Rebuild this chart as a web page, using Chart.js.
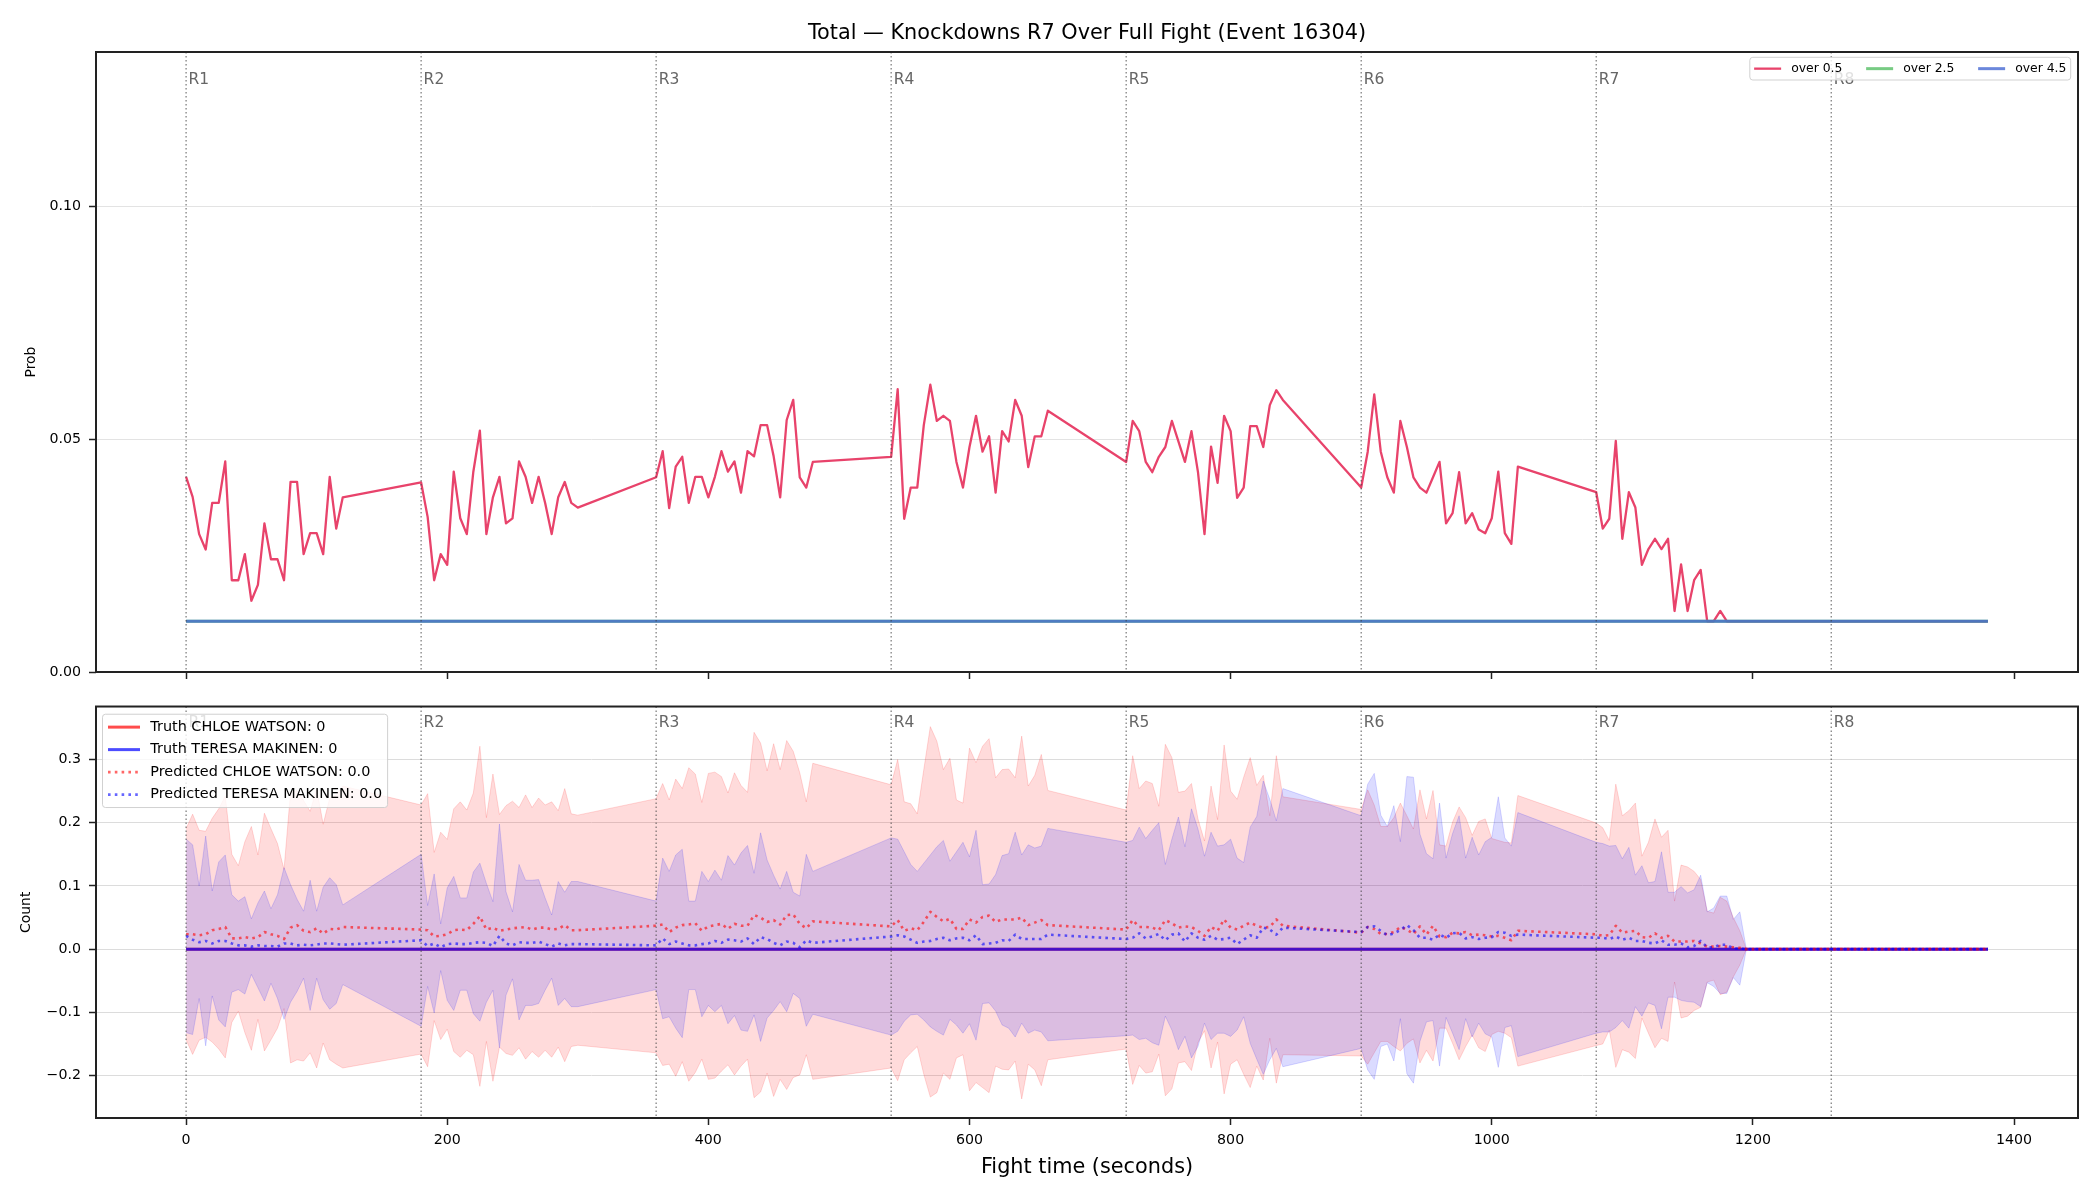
<!DOCTYPE html>
<html>
<head>
<meta charset="utf-8">
<title>Knockdowns R7 Over Full Fight</title>
<script src="https://cdn.jsdelivr.net/npm/chart.js@4.4.1/dist/chart.umd.min.js"></script>
<style>
    html, body { margin: 0; padding: 0; background: #fff; }
    #wrap { position: relative; width: 2100px; height: 1200px; }
    canvas { position: absolute; left: 0; }
    #probChart { top: 0; }
    #countChart { top: 690px; }
</style>
</head>
<body>
<div id="wrap">
    <canvas id="probChart" width="2100" height="690"></canvas>
    <canvas id="countChart" width="2100" height="510"></canvas>
</div>
<script>
// ---- data ----
const chartTitle = 'Total — Knockdowns R7 Over Full Fight (Event 16304)';
const roundStarts = [0, 180, 360, 540, 720, 900, 1080, 1260];
const roundLabels = ['R1', 'R2', 'R3', 'R4', 'R5', 'R6', 'R7', 'R8'];
const xTicks = [0, 200, 400, 600, 800, 1000, 1200, 1400];
const probTicks = [0, 0.05, 0.10];
const countTicks = [-0.2, -0.1, 0, 0.1, 0.2, 0.3];

// sample times (seconds), one row per round
const times = [
    0, 5, 10, 15, 20, 25, 30, 35, 40, 45, 50, 55, 60, 65, 70, 75, 80, 85, 90, 95, 100, 105, 110, 115, 120,
    180, 185, 190, 195, 200, 205, 210, 215, 220, 225, 230, 235, 240, 245, 250, 255, 260, 265, 270, 275, 280, 285, 290, 295, 300,
    360, 365, 370, 375, 380, 385, 390, 395, 400, 405, 410, 415, 420, 425, 430, 435, 440, 445, 450, 455, 460, 465, 470, 475, 480,
    540, 545, 550, 555, 560, 565, 570, 575, 580, 585, 590, 595, 600, 605, 610, 615, 620, 625, 630, 635, 640, 645, 650, 655, 660,
    720, 725, 730, 735, 740, 745, 750, 755, 760, 765, 770, 775, 780, 785, 790, 795, 800, 805, 810, 815, 820, 825, 830, 835, 840,
    900, 905, 910, 915, 920, 925, 930, 935, 940, 945, 950, 955, 960, 965, 970, 975, 980, 985, 990, 995, 1000, 1005, 1010, 1015, 1020,
    1080, 1085, 1090, 1095, 1100, 1105, 1110, 1115, 1120, 1125, 1130, 1135, 1140, 1145, 1150, 1155, 1160, 1165, 1170, 1175, 1180, 1185, 1190, 1195, 1200,
    1260, 1265, 1270, 1275, 1280, 1285, 1290, 1295, 1300, 1305, 1310, 1315, 1320, 1325, 1330, 1335, 1340, 1345, 1350, 1355, 1360, 1365, 1370, 1375, 1380
];

// top panel: probability of "over N" knockdowns
const over05 = [
    0.0419, 0.0376, 0.0296, 0.0263, 0.0363, 0.0363, 0.0452, 0.0197, 0.0197, 0.0253, 0.0153, 0.0187, 0.0319, 0.0242, 0.0242, 0.0197, 0.0408, 0.0408, 0.0253, 0.0298, 0.0298, 0.0253, 0.0419, 0.0308, 0.0375,
    0.0407, 0.0333, 0.0197, 0.0253, 0.0230, 0.0430, 0.0330, 0.0296, 0.0430, 0.0518, 0.0296, 0.0375, 0.0419, 0.0319, 0.0330, 0.0452, 0.0419, 0.0363, 0.0419, 0.0363, 0.0296, 0.0375, 0.0408, 0.0363, 0.0353,
    0.0418, 0.0474, 0.0352, 0.0441, 0.0462, 0.0363, 0.0419, 0.0419, 0.0375, 0.0419, 0.0474, 0.0430, 0.0452, 0.0385, 0.0474, 0.0463, 0.0530, 0.0530, 0.0463, 0.0375, 0.0541, 0.0584, 0.0418, 0.0396, 0.0451,
    0.0462, 0.0607, 0.0329, 0.0396, 0.0396, 0.0530, 0.0617, 0.0539, 0.0550, 0.0539, 0.0451, 0.0396, 0.0483, 0.0550, 0.0473, 0.0506, 0.0385, 0.0517, 0.0495, 0.0584, 0.0550, 0.0440, 0.0506, 0.0506, 0.0561,
    0.0451, 0.0539, 0.0517, 0.0451, 0.0429, 0.0462, 0.0483, 0.0539, 0.0495, 0.0451, 0.0517, 0.0429, 0.0296, 0.0484, 0.0406, 0.0550, 0.0517, 0.0374, 0.0396, 0.0528, 0.0528, 0.0483, 0.0573, 0.0605, 0.0584,
    0.0396, 0.0473, 0.0596, 0.0473, 0.0418, 0.0385, 0.0539, 0.0483, 0.0418, 0.0396, 0.0385, 0.0418, 0.0451, 0.0319, 0.0341, 0.0429, 0.0319, 0.0341, 0.0306, 0.0298, 0.0330, 0.0430, 0.0298, 0.0275, 0.0441,
    0.0386, 0.0308, 0.0329, 0.0496, 0.0286, 0.0386, 0.0353, 0.0230, 0.0264, 0.0286, 0.0264, 0.0286, 0.0131, 0.0231, 0.0131, 0.0197, 0.0219, 0.0109, 0.0109, 0.0131, 0.0109, 0.0109, 0.0109, 0.0109, 0.0109,
    0.0109, 0.0109, 0.0109, 0.0109, 0.0109, 0.0109, 0.0109, 0.0109, 0.0109, 0.0109, 0.0109, 0.0109, 0.0109, 0.0109, 0.0109, 0.0109, 0.0109, 0.0109, 0.0109, 0.0109, 0.0109, 0.0109, 0.0109, 0.0109, 0.0109
];
const flatTimes = [0, 1380];
const over25 = [0.0109, 0.0109];
const over45 = [0.0109, 0.0109];

// bottom panel: truth counts and predicted counts with their bands
const truthTimes = [0, 1380];
const truthChloe = [0, 0];
const truthTeresa = [0, 0];

const chloePred = [
    0.0235, 0.0235, 0.022, 0.0235, 0.030, 0.032, 0.035, 0.017, 0.017, 0.019, 0.017, 0.019, 0.027, 0.0235, 0.021, 0.016, 0.034, 0.038, 0.029, 0.027, 0.033, 0.0245, 0.032, 0.031, 0.035,
    0.031, 0.030, 0.020, 0.021, 0.0235, 0.030, 0.031, 0.030, 0.040, 0.052, 0.031, 0.034, 0.029, 0.031, 0.033, 0.034, 0.035, 0.031, 0.034, 0.034, 0.031, 0.032, 0.038, 0.030, 0.030,
    0.037, 0.039, 0.027, 0.034, 0.038, 0.039, 0.041, 0.029, 0.036, 0.038, 0.040, 0.032, 0.040, 0.037, 0.037, 0.054, 0.050, 0.043, 0.046, 0.039, 0.054, 0.055, 0.040, 0.033, 0.044,
    0.036, 0.046, 0.029, 0.033, 0.030, 0.043, 0.059, 0.051, 0.044, 0.048, 0.032, 0.032, 0.047, 0.042, 0.051, 0.053, 0.043, 0.047, 0.047, 0.047, 0.050, 0.038, 0.042, 0.046, 0.038,
    0.031, 0.046, 0.035, 0.035, 0.034, 0.030, 0.046, 0.041, 0.034, 0.036, 0.035, 0.029, 0.021, 0.035, 0.029, 0.047, 0.034, 0.031, 0.037, 0.042, 0.037, 0.034, 0.035, 0.047, 0.037,
    0.026, 0.035, 0.032, 0.024, 0.024, 0.027, 0.035, 0.031, 0.024, 0.036, 0.023, 0.037, 0.020, 0.019, 0.026, 0.025, 0.027, 0.022, 0.023, 0.022, 0.020, 0.021, 0.018, 0.014, 0.029,
    0.0235, 0.021, 0.022, 0.037, 0.026, 0.028, 0.029, 0.019, 0.018, 0.025, 0.018, 0.021, 0.012, 0.012, 0.012, 0.013, 0.009, 0.004, 0.004, 0.005, 0.004, 0.003, 0.002, 0, 0,
    0, 0, 0, 0, 0, 0, 0, 0, 0, 0, 0, 0, 0, 0, 0, 0, 0, 0, 0, 0, 0, 0, 0, 0, 0
];
// half-width of the band around the prediction
const chloeSpread = [
    0.167, 0.190, 0.166, 0.163, 0.177, 0.190, 0.207, 0.133, 0.115, 0.151, 0.177, 0.130, 0.188, 0.167, 0.146, 0.110, 0.214, 0.213, 0.206, 0.191, 0.221, 0.173, 0.207, 0.213, 0.223,
    0.197, 0.216, 0.133, 0.164, 0.150, 0.192, 0.202, 0.190, 0.207, 0.269, 0.177, 0.243, 0.184, 0.196, 0.201, 0.190, 0.209, 0.193, 0.205, 0.194, 0.202, 0.187, 0.216, 0.184, 0.182,
    0.201, 0.223, 0.209, 0.235, 0.216, 0.248, 0.236, 0.203, 0.242, 0.242, 0.233, 0.215, 0.239, 0.222, 0.211, 0.289, 0.276, 0.239, 0.279, 0.245, 0.276, 0.258, 0.239, 0.200, 0.250,
    0.224, 0.254, 0.204, 0.197, 0.184, 0.241, 0.293, 0.278, 0.240, 0.254, 0.204, 0.199, 0.271, 0.253, 0.270, 0.280, 0.228, 0.237, 0.238, 0.224, 0.287, 0.220, 0.233, 0.262, 0.213,
    0.189, 0.260, 0.219, 0.231, 0.228, 0.196, 0.278, 0.262, 0.214, 0.214, 0.227, 0.177, 0.150, 0.223, 0.176, 0.276, 0.216, 0.206, 0.235, 0.261, 0.222, 0.241, 0.176, 0.259, 0.204,
    0.195, 0.217, 0.196, 0.170, 0.170, 0.181, 0.196, 0.180, 0.166, 0.216, 0.183, 0.214, 0.145, 0.144, 0.175, 0.200, 0.181, 0.158, 0.179, 0.184, 0.155, 0.151, 0.151, 0.154, 0.214,
    0.176, 0.171, 0.150, 0.224, 0.185, 0.191, 0.202, 0.128, 0.151, 0.181, 0.159, 0.167, 0.064, 0.121, 0.118, 0.110, 0.101, 0.056, 0.053, 0.077, 0.072, 0.047, 0.027, 0, 0,
    0, 0, 0, 0, 0, 0, 0, 0, 0, 0, 0, 0, 0, 0, 0, 0, 0, 0, 0, 0, 0, 0, 0, 0, 0
];
const teresaPred = [
    0.021, 0.015, 0.011, 0.013, 0.009, 0.013, 0.013, 0.009, 0.006, 0.006, 0.004, 0.006, 0.005, 0.005, 0.004, 0.009, 0.009, 0.006, 0.007, 0.006, 0.007, 0.009, 0.009, 0.008, 0.007,
    0.014, 0.005, 0.009, 0.003, 0.008, 0.009, 0.008, 0.008, 0.010, 0.011, 0.010, 0.005, 0.021, 0.009, 0.006, 0.011, 0.010, 0.010, 0.012, 0.008, 0.004, 0.009, 0.006, 0.008, 0.008,
    0.006, 0.017, 0.008, 0.012, 0.009, 0.006, 0.006, 0.008, 0.009, 0.013, 0.010, 0.015, 0.014, 0.012, 0.017, 0.008, 0.019, 0.016, 0.010, 0.006, 0.012, 0.010, 0.003, 0.014, 0.010,
    0.020, 0.022, 0.020, 0.015, 0.010, 0.012, 0.013, 0.016, 0.018, 0.014, 0.017, 0.018, 0.014, 0.022, 0.008, 0.009, 0.010, 0.014, 0.013, 0.023, 0.016, 0.016, 0.016, 0.016, 0.023,
    0.016, 0.018, 0.025, 0.017, 0.020, 0.024, 0.014, 0.023, 0.025, 0.012, 0.025, 0.018, 0.015, 0.021, 0.015, 0.016, 0.018, 0.008, 0.015, 0.022, 0.018, 0.034, 0.031, 0.023, 0.034,
    0.027, 0.035, 0.036, 0.029, 0.022, 0.025, 0.030, 0.038, 0.030, 0.018, 0.018, 0.015, 0.023, 0.018, 0.025, 0.026, 0.017, 0.019, 0.016, 0.018, 0.019, 0.027, 0.026, 0.021, 0.023,
    0.018, 0.018, 0.016, 0.020, 0.015, 0.018, 0.013, 0.013, 0.010, 0.009, 0.014, 0.007, 0.007, 0.009, 0.003, 0.005, 0.013, 0.003, 0.003, 0.007, 0.007, 0.001, 0.001, 0, 0,
    0, 0, 0, 0, 0, 0, 0, 0, 0, 0, 0, 0, 0, 0, 0, 0, 0, 0, 0, 0, 0, 0, 0, 0, 0
];
const teresaSpread = [
    0.153, 0.150, 0.089, 0.166, 0.083, 0.125, 0.136, 0.077, 0.070, 0.077, 0.044, 0.067, 0.087, 0.059, 0.082, 0.120, 0.093, 0.073, 0.053, 0.103, 0.053, 0.089, 0.104, 0.094, 0.063,
    0.136, 0.064, 0.110, 0.037, 0.089, 0.106, 0.073, 0.073, 0.112, 0.125, 0.094, 0.070, 0.177, 0.082, 0.053, 0.123, 0.099, 0.099, 0.098, 0.073, 0.050, 0.098, 0.084, 0.099, 0.099,
    0.070, 0.127, 0.115, 0.137, 0.149, 0.070, 0.070, 0.115, 0.098, 0.112, 0.099, 0.133, 0.119, 0.140, 0.147, 0.112, 0.165, 0.125, 0.107, 0.089, 0.111, 0.080, 0.081, 0.136, 0.113,
    0.156, 0.152, 0.134, 0.119, 0.113, 0.124, 0.136, 0.146, 0.154, 0.125, 0.137, 0.151, 0.132, 0.166, 0.094, 0.094, 0.108, 0.134, 0.138, 0.162, 0.133, 0.149, 0.144, 0.147, 0.168,
    0.153, 0.154, 0.168, 0.158, 0.168, 0.176, 0.120, 0.151, 0.184, 0.150, 0.197, 0.172, 0.132, 0.164, 0.148, 0.149, 0.156, 0.136, 0.122, 0.171, 0.192, 0.232, 0.206, 0.180, 0.220,
    0.184, 0.226, 0.242, 0.183, 0.172, 0.202, 0.140, 0.235, 0.242, 0.164, 0.133, 0.128, 0.208, 0.126, 0.158, 0.185, 0.127, 0.158, 0.133, 0.152, 0.158, 0.214, 0.150, 0.142, 0.193,
    0.151, 0.149, 0.147, 0.144, 0.128, 0.143, 0.104, 0.119, 0.095, 0.098, 0.140, 0.083, 0.083, 0.090, 0.086, 0.089, 0.104, 0.056, 0.062, 0.077, 0.077, 0.046, 0.058, 0, 0,
    0, 0, 0, 0, 0, 0, 0, 0, 0, 0, 0, 0, 0, 0, 0, 0, 0, 0, 0, 0, 0, 0, 0, 0, 0
];

// ---- helpers ----
const fontFamily = '"DejaVu Sans", "Liberation Sans", sans-serif';
Chart.defaults.font.family = fontFamily;
Chart.defaults.font.size = 14.2;
Chart.defaults.color = '#000';

const pts = (xs, ys) => xs.map((x, i) => ({ x: x, y: ys[i] }));
const bandEdge = (pred, spread, sign) => pred.map((p, i) => p + sign * spread[i]);
const minusSign = v => (v < 0 ? '\u2212' : '') + Math.abs(v).toFixed(1);

function drawLegend(chart, cfg) {
    const { ctx, chartArea: area } = chart;
    const items = chart.data.datasets.filter(d => d.inLegend);
    ctx.save();
    ctx.font = cfg.fontSize + 'px ' + fontFamily;
    const textW = Math.max(...items.map(d => ctx.measureText(d.label).width));
    let boxW, boxH;
    if (cfg.horizontal) {
        // fixed column pitch, like the reference
        boxW = cfg.pad * 2 + cfg.colW * (items.length - 1) + cfg.handle + cfg.gap + textW;
        boxH = cfg.rowH;
    } else {
        boxW = cfg.pad * 2 + cfg.handle + cfg.gap + textW;
        boxH = cfg.rowH * items.length + cfg.padY * 2;
    }
    const left = cfg.alignRight ? area.right - cfg.insetX - boxW : area.left + cfg.insetX;
    const top = area.top + cfg.insetY;

    ctx.beginPath();
    ctx.roundRect(left, top, boxW, boxH, 3);
    ctx.fillStyle = 'rgba(255, 255, 255, 0.8)';
    ctx.fill();
    ctx.strokeStyle = 'rgba(204, 204, 204, 0.9)';
    ctx.lineWidth = 1;
    ctx.stroke();

    ctx.textBaseline = 'middle';
    ctx.textAlign = 'left';
    items.forEach((d, i) => {
        let hx, y;
        if (cfg.horizontal) {
            hx = left + cfg.pad + i * cfg.colW;
            y = top + boxH / 2;
        } else {
            hx = left + cfg.pad;
            y = top + cfg.padY + cfg.rowH * (i + 0.5);
        }
        ctx.strokeStyle = d.borderColor;
        ctx.lineWidth = d.borderWidth;
        ctx.setLineDash(d.borderDash || []);
        ctx.beginPath();
        ctx.moveTo(hx, y);
        ctx.lineTo(hx + cfg.handle, y);
        ctx.stroke();
        ctx.setLineDash([]);
        ctx.fillStyle = '#000';
        ctx.fillText(d.label, hx + cfg.handle + cfg.gap, y);
    });
    ctx.restore();
}

// round boundaries, axes box and legend
const decorPlugin = {
    id: 'decor',
    afterDatasetsDraw(chart, args, opts) {
        const { ctx, chartArea: area, scales } = chart;
        ctx.save();
        ctx.beginPath();
        ctx.rect(area.left, area.top, area.width, area.height);
        ctx.clip();
        ctx.setLineDash([1.5, 2.5]);
        ctx.lineWidth = 1.2;
        ctx.strokeStyle = 'rgba(60, 60, 60, 0.7)';
        ctx.font = '15.5px ' + fontFamily;
        ctx.fillStyle = '#666';
        ctx.textBaseline = 'middle';
        roundStarts.forEach((t, i) => {
            const px = scales.x.getPixelForValue(t);
            ctx.beginPath();
            ctx.moveTo(px, area.top);
            ctx.lineTo(px, area.bottom);
            ctx.stroke();
            ctx.fillText(roundLabels[i], px + 2.5, area.top + opts.labelOffset);
        });
        ctx.restore();
    },
    afterDraw(chart, args, opts) {
        const { ctx, chartArea: area } = chart;
        ctx.save();
        ctx.strokeStyle = '#222';
        ctx.lineWidth = 2;
        ctx.strokeRect(area.left, area.top, area.width, area.height);
        ctx.restore();
        drawLegend(chart, opts.legend);
    }
};

const lineDefaults = { pointRadius: 0, tension: 0, fill: false, borderJoinStyle: 'round' };

function xScale(showLabels) {
    return {
        type: 'linear',
        min: -69,
        max: 1449,
        afterBuildTicks: s => { s.ticks = xTicks.map(v => ({ value: v })); },
        afterFit: s => { s.height = showLabels ? 82 : 18; },
        ticks: { display: showLabels, padding: 7, callback: v => String(v) },
        grid: { drawOnChartArea: false, tickLength: 7, tickColor: '#222', tickWidth: 1.5 },
        border: { display: false },
        title: {
            display: showLabels,
            text: 'Fight time (seconds)',
            font: { size: 20.8 },
            padding: { top: 0, bottom: 19.8 }
        }
    };
}

// ---- top panel ----
new Chart(document.getElementById('probChart'), {
    type: 'line',
    data: {
        datasets: [
            { ...lineDefaults, label: 'over 0.5', data: pts(times, over05), borderColor: '#e8436b', borderWidth: 2.3, order: 3, inLegend: true },
            { ...lineDefaults, label: 'over 2.5', data: pts(flatTimes, over25), borderColor: 'rgba(85, 190, 100, 0.8)', borderWidth: 3, order: 2, inLegend: true },
            { ...lineDefaults, label: 'over 4.5', data: pts(flatTimes, over45), borderColor: 'rgba(70, 105, 210, 0.8)', borderWidth: 3, order: 1, inLegend: true }
        ]
    },
    options: {
        responsive: false,
        devicePixelRatio: 1,
        animation: false,
        events: [],
        layout: { padding: { left: 0, right: 22, top: 0, bottom: 0 } },
        scales: {
            x: xScale(false),
            y: {
                min: 0,
                max: 0.1331,
                afterBuildTicks: s => { s.ticks = probTicks.map(v => ({ value: v })); },
                afterFit: s => { s.width = 96; },
                ticks: { padding: 8, callback: v => v.toFixed(2) },
                grid: { color: '#e3e3e3', tickLength: 7, tickColor: '#222', tickWidth: 1.5 },
                border: { display: false },
                title: { display: true, text: 'Prob', font: { size: 13.9 }, padding: { top: 22.7, bottom: 0 } }
            }
        },
        plugins: {
            legend: { display: false },
            tooltip: { enabled: false },
            title: {
                display: true,
                fullSize: false,
                text: chartTitle,
                font: { size: 20.8, weight: 'normal' },
                padding: { top: 21.2, bottom: 5.84 }
            },
            decor: {
                labelOffset: 28.3,
                legend: { horizontal: true, alignRight: true, fontSize: 12.4, pad: 4.3, handle: 27, gap: 10, colW: 112, rowH: 22.7, insetX: 7.3, insetY: 5.3 }
            }
        }
    },
    plugins: [decorPlugin]
});

// ---- bottom panel ----
new Chart(document.getElementById('countChart'), {
    type: 'line',
    data: {
        datasets: [
            { ...lineDefaults, label: 'chloe upper', data: pts(times, bandEdge(chloePred, chloeSpread, 1)), borderColor: 'rgba(255, 0, 0, 0.15)', borderWidth: 1, backgroundColor: 'rgba(255, 0, 0, 0.14)', fill: '+1', order: 10 },
            { ...lineDefaults, label: 'chloe lower', data: pts(times, bandEdge(chloePred, chloeSpread, -1)), borderColor: 'rgba(255, 0, 0, 0.15)', borderWidth: 1, order: 9 },
            { ...lineDefaults, label: 'teresa upper', data: pts(times, bandEdge(teresaPred, teresaSpread, 1)), borderColor: 'rgba(0, 0, 255, 0.15)', borderWidth: 1, backgroundColor: 'rgba(0, 0, 255, 0.14)', fill: '+1', order: 8 },
            { ...lineDefaults, label: 'teresa lower', data: pts(times, bandEdge(teresaPred, teresaSpread, -1)), borderColor: 'rgba(0, 0, 255, 0.15)', borderWidth: 1, order: 7 },
            { ...lineDefaults, label: 'Truth CHLOE WATSON: 0', data: pts(truthTimes, truthChloe), borderColor: 'rgba(255, 0, 0, 0.7)', borderWidth: 3, order: 6, inLegend: true },
            { ...lineDefaults, label: 'Truth TERESA MAKINEN: 0', data: pts(truthTimes, truthTeresa), borderColor: 'rgba(0, 0, 255, 0.7)', borderWidth: 3, order: 5, inLegend: true },
            { ...lineDefaults, label: 'Predicted CHLOE WATSON: 0.0', data: pts(times, chloePred), borderColor: 'rgba(255, 0, 0, 0.6)', borderWidth: 2.6, borderDash: [2.6, 4.2], borderCapStyle: 'butt', order: 4, inLegend: true },
            { ...lineDefaults, label: 'Predicted TERESA MAKINEN: 0.0', data: pts(times, teresaPred), borderColor: 'rgba(0, 0, 255, 0.6)', borderWidth: 2.6, borderDash: [2.6, 4.2], borderCapStyle: 'butt', order: 3, inLegend: true }
        ]
    },
    options: {
        responsive: false,
        devicePixelRatio: 1,
        animation: false,
        events: [],
        layout: { padding: { left: 0, right: 22, top: 14, bottom: 0 } },
        scales: {
            x: xScale(true),
            y: {
                min: -0.2671,
                max: 0.3838,
                afterBuildTicks: s => { s.ticks = countTicks.map(v => ({ value: v })); },
                afterFit: s => { s.width = 96; },
                ticks: { padding: 8, callback: v => minusSign(v) },
                grid: { color: '#dcdcdc', tickLength: 7, tickColor: '#222', tickWidth: 1.5 },
                border: { display: false },
                title: { display: true, text: 'Count', font: { size: 13.9 }, padding: { top: 18.5, bottom: 0 } }
            }
        },
        plugins: {
            legend: { display: false },
            tooltip: { enabled: false },
            decor: {
                labelOffset: 16,
                legend: { horizontal: false, alignRight: false, fontSize: 14.4, pad: 5.5, padY: 1.65, handle: 32, gap: 10.3, rowH: 22.5, insetX: 6.5, insetY: 7.7 }
            }
        }
    },
    plugins: [decorPlugin]
});
</script>
</body>
</html>
